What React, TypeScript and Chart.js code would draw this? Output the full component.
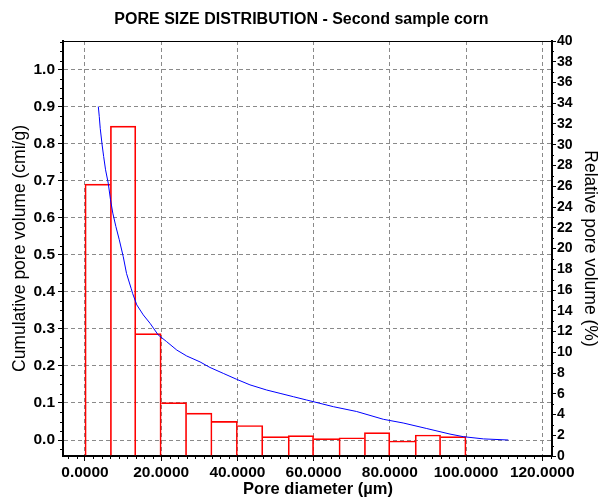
import React, { useEffect, useRef } from "react";
import { Chart, registerables } from "chart.js";

Chart.register(...registerables);

const TITLE = "PORE SIZE DISTRIBUTION - Second sample corn";
const X_TITLE = "Pore diameter (µm)";
const Y_LEFT_TITLE = "Cumulative pore volume (cmi/g)";
const Y_RIGHT_TITLE = "Relative pore volume (%)";

const X_TICKS = [0, 20, 40, 60, 80, 100, 120];
const Y_LEFT_TICKS = [0, 0.1, 0.2, 0.3, 0.4, 0.5, 0.6, 0.7, 0.8, 0.9, 1.0];

// Histogram bins (pore diameter, µm) and relative pore volume (%)
const BIN_CENTERS = [
  3.3333, 10, 16.6667, 23.3333, 30, 36.6667, 43.3333, 50, 56.6667, 63.3333,
  70, 76.6667, 83.3333, 90, 96.6667,
];
const RELATIVE_VOLUME = [
  26.2, 31.8, 11.8, 5.14, 4.14, 3.34, 2.94, 1.86, 1.96, 1.67, 1.76, 2.25,
  1.45, 2.02, 1.86,
];

// Cumulative pore volume curve (cm³/g)
const CURVE_DIAMETER = [
  3.5, 3.75, 4.0, 4.5, 4.9, 5.4, 6.1, 6.7, 7.3, 8.1, 9.0, 10.05, 10.9, 12.1,
  12.5, 13.6, 15.3, 17.1, 19.2, 21.4, 24.1, 26.7, 30.2, 32.8, 36.3, 39.8,
  43.3, 47.7, 51.2, 54.7, 58.2, 65.2, 71.3, 78.3, 83.5, 89.7, 95.8, 99.3,
  104.6, 111.1,
];
const CURVE_CUMULATIVE = [
  0.901, 0.874, 0.842, 0.797, 0.766, 0.73, 0.694, 0.649, 0.613, 0.577, 0.541,
  0.495, 0.45, 0.41, 0.396, 0.365, 0.338, 0.315, 0.284, 0.266, 0.243, 0.227,
  0.211, 0.196, 0.18, 0.164, 0.149, 0.135, 0.126, 0.117, 0.108, 0.09, 0.077,
  0.056, 0.046, 0.031, 0.016, 0.009, 0.003, 0.0,
];

const FAMILY = "'Liberation Sans', Arial, Helvetica, sans-serif";

const decorPlugin = {
  id: "decor",
  afterDraw(chart: any) {
    const { ctx, chartArea, scales } = chart;
    const { left, right, top, bottom } = chartArea;
    ctx.save();
    ctx.strokeStyle = "#000";
    ctx.lineWidth = 1;
    ctx.beginPath();
    // top frame line
    ctx.moveTo(left, Math.round(top) + 0.5);
    ctx.lineTo(right, Math.round(top) + 0.5);
    // left minor ticks
    const yl = scales.y;
    for (let k = -2; k <= 44; k++) {
      if (k % 4 === 0) continue;
      const v = k * 0.025;
      if (v < yl.min || v > yl.max) continue;
      const py = Math.round(yl.getPixelForValue(v)) + 0.5;
      ctx.moveTo(left - 3, py);
      ctx.lineTo(left, py);
    }
    // right minor ticks
    const yr = scales.y1;
    for (let k = 1; k < 40; k += 2) {
      const py = Math.round(yr.getPixelForValue(k)) + 0.5;
      ctx.moveTo(right, py);
      ctx.lineTo(right + 2, py);
    }
    // bottom minor ticks
    const xs = scales.x;
    for (let k = -3; k <= 56; k++) {
      if (k % 9 === 0) continue;
      const v = (k * 20) / 9;
      if (v < xs.min || v > xs.max) continue;
      const px = Math.round(xs.getPixelForValue(v)) + 0.5;
      ctx.moveTo(px, bottom);
      ctx.lineTo(px, bottom + 3);
    }
    ctx.stroke();
    // x-axis title
    ctx.fillStyle = "#000";
    ctx.font = `bold 16.5px ${FAMILY}`;
    ctx.textAlign = "center";
    ctx.textBaseline = "middle";
    ctx.fillText(X_TITLE, 318, 489);
    ctx.restore();
  },
};

export default function App() {
  const canvasRef = useRef<HTMLCanvasElement | null>(null);

  useEffect(() => {
    const canvas = canvasRef.current;
    if (!canvas) return;
    const n = RELATIVE_VOLUME.length;
    const chart = new Chart(canvas, {
      type: "bar",
      data: {
        datasets: [
          {
            type: "line",
            data: CURVE_DIAMETER.map((x, i) => ({ x, y: CURVE_CUMULATIVE[i] })),
            borderColor: "#0000ff",
            borderWidth: 1,
            pointRadius: 0,
            tension: 0,
            fill: false,
            yAxisID: "y",
            order: 0,
          } as any,
          {
            type: "bar",
            data: BIN_CENTERS.map((x, i) => ({ x, y: RELATIVE_VOLUME[i] })),
            backgroundColor: "rgba(0,0,0,0)",
            borderColor: "#ff0000",
            borderWidth: (c: any) => {
              const i = c.dataIndex;
              const h = RELATIVE_VOLUME;
              return {
                top: 1,
                bottom: 0,
                left: i === 0 || h[i] >= h[i - 1] ? 1 : 0,
                right: i === n - 1 || h[i] > h[i + 1] ? 1 : 0,
              };
            },
            borderSkipped: false,
            barPercentage: 1,
            categoryPercentage: 1,
            yAxisID: "y1",
            order: 1,
          } as any,
        ],
      },
      options: {
        responsive: false,
        devicePixelRatio: 1,
        animation: false,
        layout: { padding: 0 },
        plugins: {
          legend: { display: false },
          tooltip: { enabled: false },
          title: {
            display: true,
            text: TITLE,
            color: "#000",
            font: { family: FAMILY, size: 16, weight: "bold" },
            padding: { top: 10, bottom: 11.8 },
          },
        },
        scales: {
          x: {
            type: "linear",
            min: -5.77,
            max: 122.57,
            offset: false,
            afterBuildTicks: (s: any) => {
              s.ticks = X_TICKS.map((v) => ({ value: v }));
            },
            afterFit: (s: any) => {
              s.height = 43;
            },
            ticks: {
              autoSkip: false,
              maxRotation: 0,
              padding: 2,
              color: "#000",
              font: { family: FAMILY, size: 15.5, weight: "bold" },
              callback: (v: any) => Number(v).toFixed(4),
            },
            grid: {
              offset: false,
              color: "#8a8a8a",
              lineWidth: 1,
              tickLength: 5,
              tickColor: "#000",
              tickWidth: 1,
              tickBorderDash: [],
            },
            border: { display: true, color: "#000", width: 2, dash: [4, 3] },
          },
          y: {
            type: "linear",
            position: "left",
            min: -0.0432,
            max: 1.078,
            afterBuildTicks: (s: any) => {
              s.ticks = Y_LEFT_TICKS.map((v) => ({ value: v }));
            },
            afterFit: (s: any) => {
              s.width = 63;
            },
            ticks: {
              autoSkip: false,
              padding: 3,
              color: "#000",
              font: { family: FAMILY, size: 15.5, weight: "bold" },
              callback: (v: any) => Number(v).toFixed(1),
            },
            grid: {
              color: "#8a8a8a",
              lineWidth: 1,
              tickLength: 5,
              tickColor: "#000",
              tickWidth: 1,
              tickBorderDash: [],
            },
            border: { display: true, color: "#000", width: 2, dash: [4, 3] },
            title: {
              display: true,
              text: Y_LEFT_TITLE,
              color: "#000",
              font: { family: FAMILY, size: 17.5 },
              padding: { top: 10, bottom: 0 },
            },
          },
          y1: {
            type: "linear",
            position: "right",
            min: 0,
            max: 40,
            afterFit: (s: any) => {
              s.width = 51;
            },
            ticks: {
              stepSize: 2,
              autoSkip: false,
              padding: 1,
              color: "#000",
              font: { family: FAMILY, size: 14, weight: "bold" },
            },
            grid: {
              drawOnChartArea: false,
              tickLength: 4,
              tickColor: "#000",
              tickWidth: 1,
            },
            border: { display: true, color: "#000", width: 2 },
            title: {
              display: true,
              text: Y_RIGHT_TITLE,
              color: "#000",
              font: { family: FAMILY, size: 17.5 },
              padding: { top: 3, bottom: 0 },
            },
          },
        },
      },
      plugins: [decorPlugin],
    } as any);
    return () => chart.destroy();
  }, []);

  return (
    <div
      style={{
        position: "fixed",
        left: 0,
        top: 0,
        width: 603,
        height: 499,
        background: "#fff",
      }}
    >
      <canvas
        ref={canvasRef}
        width={603}
        height={499}
        style={{ display: "block" }}
      />
    </div>
  );
}
